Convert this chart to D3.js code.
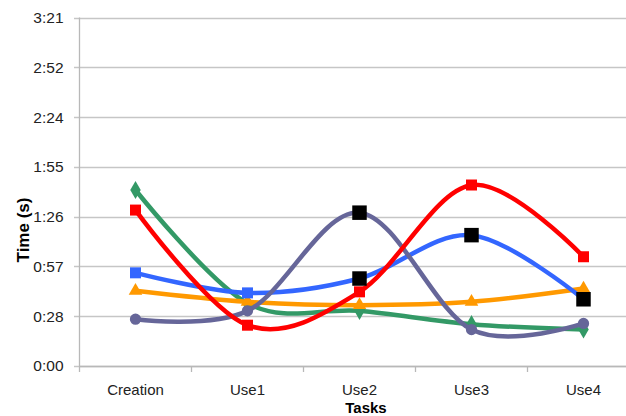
<!DOCTYPE html>
<html>
<head>
<meta charset="utf-8">
<script src="https://cdn.jsdelivr.net/npm/d3@7"></script>
<style>
  html, body { margin: 0; padding: 0; background: #fff; }
  svg { display: block; }
  text { font-family: "Liberation Sans", Arial, sans-serif; }
</style>
</head>
<body>
<svg id="chart" width="626" height="416"></svg>
<script>
// Task categories on the x axis
const tasks = ["Creation", "Use1", "Use2", "Use3", "Use4"];

// Completion time per task, in seconds, one array per participant
const timesBlue   = [53.9, 42.3, 50.6, 75.7, 38.6];
const timesRed    = [90.2, 23.6, 42.9, 104.7, 63.2];
const timesGreen  = [101.8, 36.3, 31.9, 24.2, 21.1];
const timesPurple = [27.1, 31.9, 88.7, 21.1, 24.6];
const timesOrange = [43.5, 37.1, 35.2, 37.1, 44.8];

// Points marked as outliers (series key, task)
const flagged = [["blue", "Use2"], ["blue", "Use3"], ["blue", "Use4"], ["purple", "Use2"]];

// Y axis ticks (seconds) and their m:ss labels
const yTickSeconds = [0, 28.8, 57.6, 86.4, 115.2, 144, 172.8, 201.6];
const yTickLabels  = ["0:00", "0:28", "0:57", "1:26", "1:55", "2:24", "2:52", "3:21"];

const series = [
  { key: "green",  values: timesGreen,  color: "#339966", marker: "diamond" },
  { key: "orange", values: timesOrange, color: "#FF9900", marker: "triangle" },
  { key: "blue",   values: timesBlue,   color: "#3366FF", marker: "square" },
  { key: "purple", values: timesPurple, color: "#666699", marker: "circle" },
  { key: "red",    values: timesRed,    color: "#FF0000", marker: "square" }
];

const svg = d3.select("#chart");
const left = 79.5, bandW = 112;
const plotRight = left + bandW * tasks.length;
const yBottom = 366, yTop = 17.5;

const x = d3.scaleBand().domain(tasks).range([left, plotRight]).padding(0);
const cx = t => x(t) + x.bandwidth() / 2;
const y = d3.scaleLinear().domain([0, 201.6]).range([yBottom, yTop]);

// Horizontal gridlines
svg.append("g")
  .selectAll("line")
  .data(yTickSeconds)
  .join("line")
  .attr("x1", left - 5.5).attr("x2", plotRight)
  .attr("y1", d => Math.round(y(d)) + 0.5).attr("y2", d => Math.round(y(d)) + 0.5)
  .attr("stroke", "#c6c6c6").attr("stroke-width", 1.3);

// Y axis
const yAxis = d3.axisLeft(y)
  .tickValues(yTickSeconds)
  .tickFormat((d, i) => yTickLabels[i])
  .tickSize(0).tickPadding(16);
const gy = svg.append("g").attr("transform", `translate(${left},0)`).call(yAxis);
gy.select(".domain").attr("stroke", "#b8b8b8").attr("stroke-width", 1.3)
  .attr("d", `M0,${yTop}V${yBottom}`);
gy.selectAll(".tick text")
  .attr("font-size", "15.5px").attr("fill", "#222")
  .attr("font-family", "'Liberation Sans', Arial, sans-serif");

// X axis with ticks between categories
const gx = svg.append("g").attr("transform", `translate(0,${yBottom})`);
gx.append("line").attr("x1", left).attr("x2", plotRight).attr("y1", 0.5).attr("y2", 0.5)
  .attr("stroke", "#b8b8b8").attr("stroke-width", 1.3);
gx.selectAll("line.tk")
  .data(tasks.concat(["__end"]))
  .join("line").attr("class", "tk")
  .attr("x1", (d, i) => left + i * x.bandwidth()).attr("x2", (d, i) => left + i * x.bandwidth())
  .attr("y1", 0).attr("y2", 6)
  .attr("stroke", "#b8b8b8").attr("stroke-width", 1.3);
gx.selectAll("text")
  .data(tasks)
  .join("text")
  .attr("x", d => cx(d)).attr("y", 29)
  .attr("text-anchor", "middle")
  .attr("font-size", "15px").attr("fill", "#222")
  .text(d => d);

// Axis titles
svg.append("text")
  .attr("x", 366).attr("y", 412.5)
  .attr("text-anchor", "middle")
  .attr("font-size", "15px").attr("font-weight", "bold").attr("fill", "#000")
  .text("Tasks");
svg.append("text")
  .attr("transform", "translate(29,230) rotate(-90)")
  .attr("text-anchor", "middle")
  .attr("font-size", "17px").attr("font-weight", "bold").attr("fill", "#000")
  .text("Time (s)");

// Smoothed lines and markers
const line = d3.line()
  .x((d, i) => cx(tasks[i]))
  .y(d => y(d))
  .curve(d3.curveCardinal.tension(0));

const symbolFor = {
  square:   d3.symbol().type(d3.symbolSquare).size(121),
  diamond:  d3.symbol().type(d3.symbolDiamond).size(95),
  triangle: d3.symbol().type(d3.symbolTriangle).size(80),
  circle:   d3.symbol().type(d3.symbolCircle).size(100)
};

series.forEach(s => {
  const g = svg.append("g");
  g.append("path")
    .datum(s.values)
    .attr("d", line)
    .attr("fill", "none")
    .attr("stroke", s.color)
    .attr("stroke-width", 4.5)
    .attr("stroke-linejoin", "round");
  g.selectAll("path.mk")
    .data(s.values.map((v, i) => ({ v, t: tasks[i] })))
    .join("path").attr("class", "mk")
    .attr("transform", d => `translate(${cx(d.t)},${y(d.v)})`)
    .attr("d", symbolFor[s.marker]())
    .attr("fill", s.color);
});

// Flagged points drawn as larger black squares
const lookup = Object.fromEntries(series.map(s => [s.key, s.values]));
svg.append("g")
  .selectAll("path")
  .data(flagged)
  .join("path")
  .attr("transform", ([k, t]) => `translate(${cx(t)},${y(lookup[k][tasks.indexOf(t)])})`)
  .attr("d", d3.symbol().type(d3.symbolSquare).size(210)())
  .attr("fill", "#000");
</script>
</body>
</html>
